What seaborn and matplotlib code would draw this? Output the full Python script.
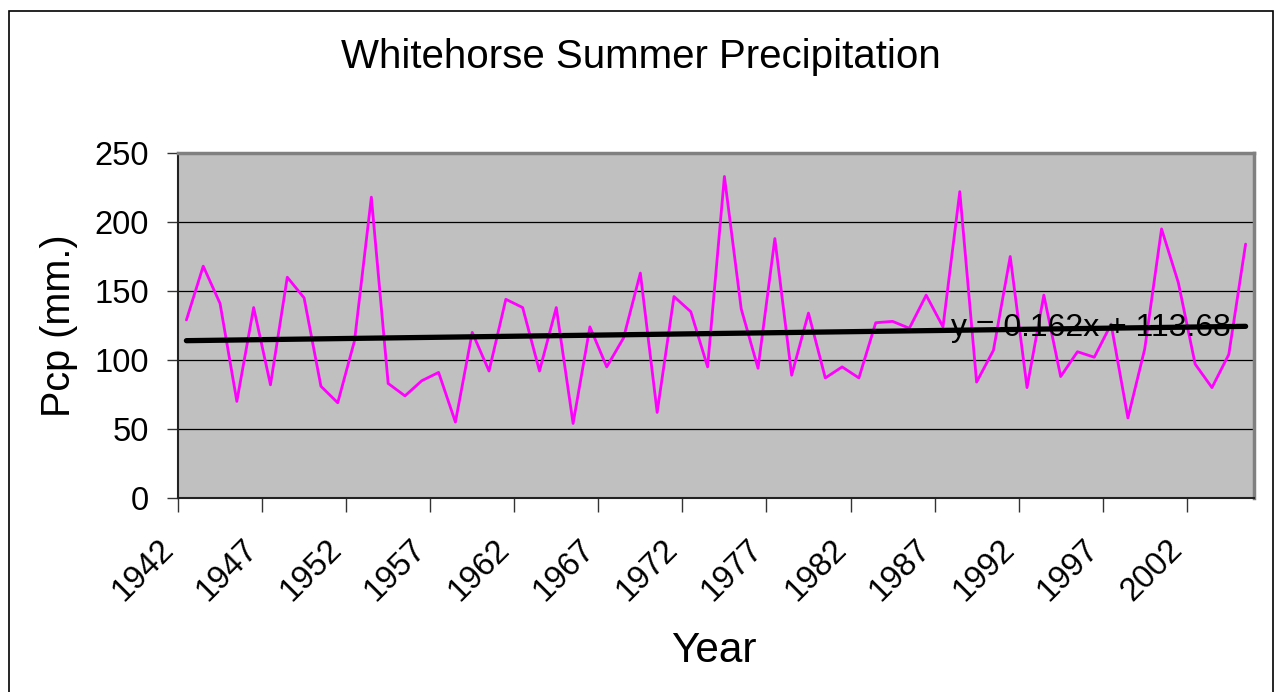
import numpy as np
import pandas as pd
import matplotlib
matplotlib.use("Agg")
import matplotlib.pyplot as plt
import matplotlib.patches as mpatches
import matplotlib.transforms as mtransforms
import seaborn as sns

years = list(range(1942, 2006))
pcp = [129, 168, 141, 70, 138, 82, 160, 145, 81, 69,
       114, 218, 83, 74, 85, 91, 55, 120, 92, 144,
       138, 92, 138, 54, 124, 95, 116, 163, 62, 146,
       135, 95, 233, 137, 94, 188, 89, 134, 87, 95,
       87, 127, 128, 123, 147, 124, 222, 84, 107, 175,
       80, 147, 88, 106, 102, 126, 58, 108, 195, 156,
       97, 80, 104, 184]
tick_labels = [str(y) for y in range(1942, 2006, 5)]
title = "Whitehorse Summer Precipitation"
x_label = "Year"
y_label = "Pcp (mm.)"
equation = "y = 0.162x + 113.68"

df = pd.DataFrame({"Year": years, "Pcp": pcp})

sns.set_style("white")
plt.rcParams["font.family"] = ["Liberation Sans", "DejaVu Sans"]
plt.rcParams["text.color"] = "black"
plt.rcParams["xtick.color"] = "black"
plt.rcParams["ytick.color"] = "black"

W, H = 1276, 692
fig = plt.figure(figsize=(W / 100, H / 100), dpi=100)
fig.patch.set_facecolor("white")

L, R, T, B = 178, 1254, 153, 498
ax = fig.add_axes([L / W, 1 - B / H, (R - L) / W, (B - T) / H])
ax.set_facecolor("#C0C0C0")

sns.lineplot(data=df, x="Year", y="Pcp", ax=ax, color="#FF00FF", linewidth=2.0, zorder=3)
sns.regplot(data=df, x="Year", y="Pcp", ax=ax, scatter=False, ci=None,
            line_kws={"color": "black", "linewidth": 3.8, "solid_capstyle": "round", "zorder": 4})

ax.set_xlim(1941.5, 2005.5)
ax.set_ylim(0, 250)
ax.set_yticks([0, 50, 100, 150, 200, 250])
ax.set_yticklabels(["0", "50", "100", "150", "200", "250"], fontsize=23.5, color="black")
ax.yaxis.grid(True, color="black", linewidth=0.9, zorder=1)
ax.xaxis.grid(False)
ax.set_axisbelow(True)

xt = np.arange(1941.5, 2002.0, 5)
ax.set_xticks(xt)
ax.set_xticklabels(tick_labels, fontsize=23.5, rotation=45, ha="right", va="top",
                   rotation_mode="anchor", color="black")
ax.tick_params(axis="x", direction="out", length=10, width=1, color="#333333", pad=15.5, bottom=True)
ax.tick_params(axis="y", direction="out", length=8, width=1, color="#333333", pad=13, left=True)
shift = mtransforms.ScaledTranslation(-20 / 100, 0, fig.dpi_scale_trans)
for lab in ax.get_xticklabels():
    lab.set_transform(lab.get_transform() + shift)

ax.set_xlabel("")
ax.set_ylabel("")

for s in ["top", "right"]:
    ax.spines[s].set_color("#808080")
    ax.spines[s].set_linewidth(2.5)
for s in ["left", "bottom"]:
    ax.spines[s].set_color("#222222")
    ax.spines[s].set_linewidth(1.5)
for s in ax.spines.values():
    s.set_visible(True)

ax.text(1987.5, 123, equation, fontsize=23, ha="left", va="center", color="black", zorder=5)

fig.text(641 / W, 1 - 57 / H, title, fontsize=29, ha="center", va="center", color="black")
fig.text(714 / W, 1 - 651 / H, x_label, fontsize=30.5, ha="center", va="center", color="black")
fig.text(59 / W, 1 - 326 / H, y_label, fontsize=28.5, ha="center", va="center", rotation=90,
         color="black")

border = mpatches.Rectangle((8.5 / W, -0.02), (1272.5 - 8.5) / W, 1.02 - 10.5 / H,
                            transform=fig.transFigure, fill=False, edgecolor="black",
                            linewidth=1.2)
fig.patches.append(border)

fig.savefig("out.png", dpi=100)
